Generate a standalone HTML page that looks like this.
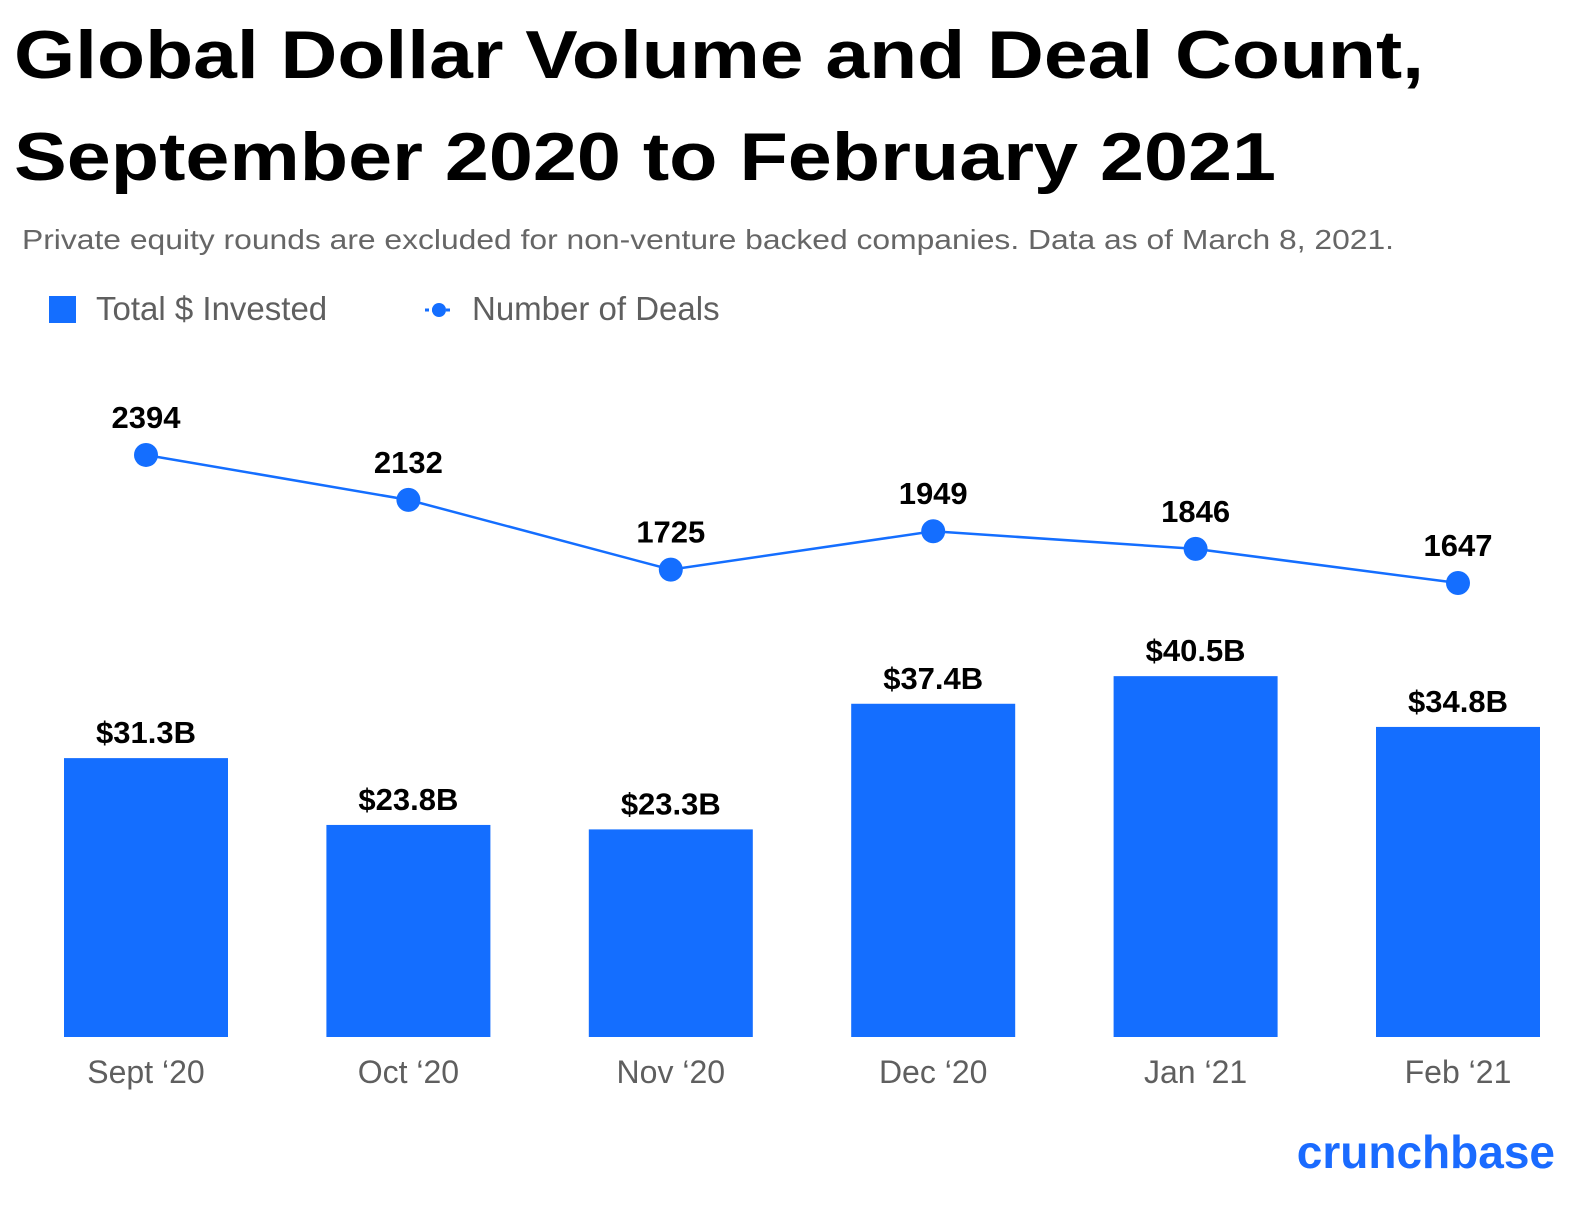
<!DOCTYPE html>
<html><head><meta charset="utf-8"><style>
body{margin:0;background:#fff;width:1584px;height:1202px;overflow:hidden;font-family:"Liberation Sans",sans-serif}
</style></head><body>
<svg width="1584" height="1202" xmlns="http://www.w3.org/2000/svg">
<text x="14" y="78" font-size="68" font-weight="bold" fill="#000" textLength="1410" lengthAdjust="spacingAndGlyphs">Global Dollar Volume and Deal Count,</text>
<text x="14" y="180" font-size="68" font-weight="bold" fill="#000" textLength="1262" lengthAdjust="spacingAndGlyphs">September 2020 to February 2021</text>
<text x="22" y="249" font-size="28" fill="#666" textLength="1372" lengthAdjust="spacingAndGlyphs">Private equity rounds are excluded for non-venture backed companies. Data as of March 8, 2021.</text>
<g>
<rect x="49" y="296" width="27" height="27" fill="#146EFF"/>
<text x="96" y="320" font-size="33" fill="#5f5f5f">Total $ Invested</text>
<line x1="425" y1="310" x2="453" y2="310" stroke="#146EFF" stroke-width="3" stroke-dasharray="4 3"/>
<circle cx="439" cy="310" r="7" fill="#146EFF"/>
<text x="472" y="320" font-size="33" fill="#5f5f5f">Number of Deals</text>
</g>
<g id="plot"></g>
<text x="1555" y="1168" font-size="46" font-weight="bold" fill="#1a6bff" text-anchor="end">crunchbase</text>
</svg>
<script>
const categories=["Sept \u201820","Oct \u201820","Nov \u201820","Dec \u201820","Jan \u201821","Feb \u201821"];
const invested=[31.3,23.8,23.3,37.4,40.5,34.8];
const investedLabels=["$31.3B","$23.8B","$23.3B","$37.4B","$40.5B","$34.8B"];
const deals=[2394,2132,1725,1949,1846,1647];
const NS="http://www.w3.org/2000/svg";
const g=document.getElementById('plot');
const xC=i=>146+i*262.4;
const yBar=v=>1037-v*8.91;
const yLine=v=>865.3-v*0.1714;
function el(t,a,txt){const e=document.createElementNS(NS,t);for(const k in a)e.setAttribute(k,a[k]);if(txt!==undefined)e.textContent=txt;g.appendChild(e);return e;}
categories.forEach((c,i)=>{
 const b=el('rect',{x:xC(i)-82,y:yBar(invested[i]),width:164,height:1037-yBar(invested[i]),fill:'#146EFF'});
 
 
 const l=el('text',{x:xC(i),y:yBar(invested[i])-15,'font-size':31,'font-weight':'bold','text-anchor':'middle',fill:'#000'},investedLabels[i]);
 
 
 const x=el('text',{x:xC(i),y:1083,'font-size':32,'text-anchor':'middle',fill:'#5f5f5f'},c);
 
 
});
const pts=deals.map((v,i)=>xC(i)+','+yLine(v)).join(' ');
const pl=el('polyline',{points:pts,fill:'none',stroke:'#146EFF','stroke-width':2.5});


deals.forEach((v,i)=>{
 const c=el('circle',{cx:xC(i),cy:yLine(v),r:12,fill:'#146EFF'});
 
 
 const t=el('text',{x:xC(i),y:yLine(v)-27,'font-size':31,'font-weight':'bold','text-anchor':'middle',fill:'#000'},String(v));
 
 
});
</script>
</body></html>
